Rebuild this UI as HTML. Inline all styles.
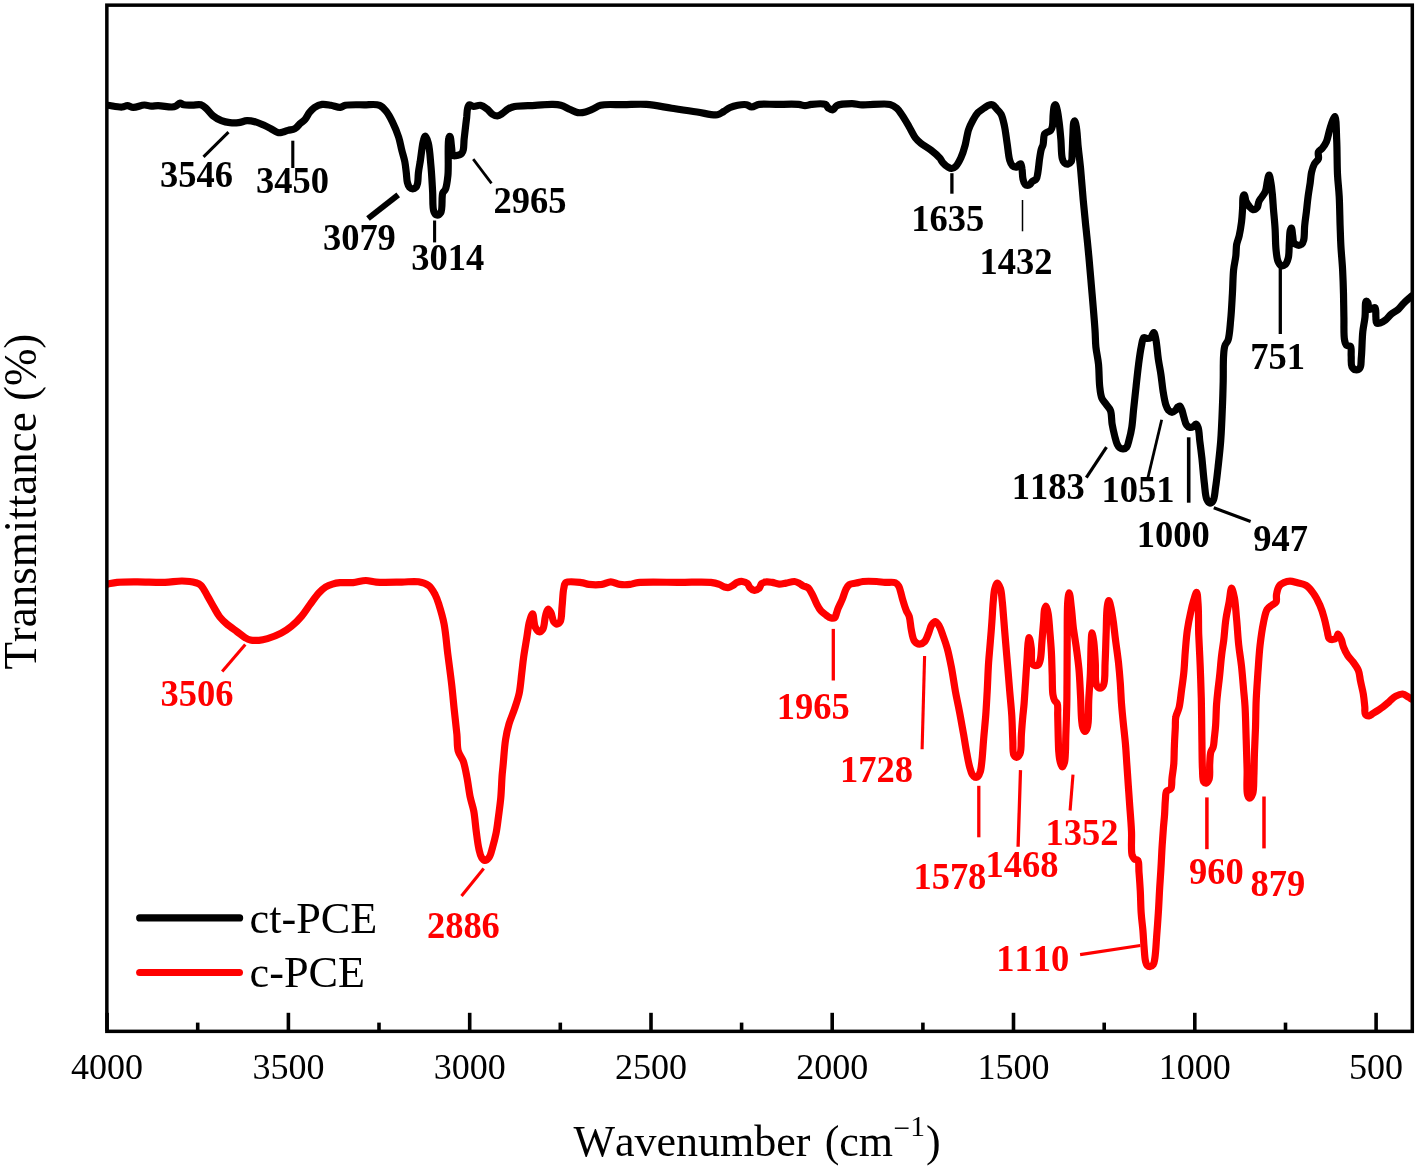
<!DOCTYPE html>
<html><head><meta charset="utf-8"><title>FTIR spectra</title>
<style>
html,body{margin:0;padding:0;background:#fff}
svg{display:block}
.r{font-family:"Liberation Serif","Times New Roman",serif;font-kerning:none}
</style></head><body>
<svg width="1418" height="1170" viewBox="0 0 1418 1170">
<rect width="1418" height="1170" fill="#fff"/>
<defs><clipPath id="cp"><rect x="106.85" y="5.15" width="1305.45" height="1026.2"/></clipPath></defs>
<g clip-path="url(#cp)">
<path d="M107.7,105.3 C112.5,105.9 118.6,107.3 122.2,107.0 C124.4,106.8 125.6,105.6 127.4,105.6 C129.3,105.6 131.0,107.3 133.3,107.4 C136.4,107.5 141.1,105.1 144.4,105.0 C147.0,104.9 149.0,106.1 151.3,106.2 C153.6,106.3 155.4,105.6 158.1,105.6 C161.9,105.6 168.6,107.2 171.8,107.0 C173.6,106.9 174.7,106.6 176.0,106.0 C177.4,105.4 178.6,103.3 180.0,103.2 C181.2,103.1 182.2,104.5 183.8,104.8 C186.0,105.3 189.5,105.1 192.3,105.1 C195.2,105.1 198.5,104.1 200.9,104.8 C202.9,105.4 204.3,106.7 206.0,108.2 C208.2,110.1 210.2,113.5 212.8,115.6 C215.4,117.7 218.4,119.5 221.4,120.7 C224.2,121.8 227.0,122.4 229.9,122.7 C232.7,123.0 235.7,123.0 238.5,122.7 C241.4,122.4 244.1,120.8 247.0,120.7 C249.8,120.6 252.8,121.2 255.6,121.9 C258.5,122.7 261.4,124.1 264.1,125.3 C266.5,126.4 268.6,127.5 270.9,128.7 C273.2,129.9 275.6,132.1 277.8,132.6 C279.6,133.0 281.2,132.5 282.9,132.1 C284.6,131.7 286.2,130.9 288.0,130.4 C290.1,129.8 292.9,129.8 294.9,128.7 C296.9,127.6 298.3,125.2 300.0,123.6 C301.7,122.1 303.6,121.0 305.1,119.3 C306.8,117.4 307.8,114.5 309.4,112.5 C310.9,110.6 312.5,108.7 314.5,107.4 C316.7,106.0 319.5,104.8 322.2,104.4 C324.9,104.0 327.9,104.8 330.8,105.3 C333.9,105.8 337.7,107.6 340.3,107.4 C342.3,107.2 343.1,105.8 345.4,105.3 C349.6,104.4 358.2,104.8 364.2,104.8 C369.6,104.8 375.7,103.7 379.6,105.3 C382.6,106.5 384.4,109.1 386.4,111.6 C388.7,114.5 390.5,118.1 392.4,121.9 C394.6,126.4 397.0,132.0 398.6,137.0 C400.1,141.6 400.8,146.3 401.9,150.6 C402.9,154.5 404.1,158.0 404.8,161.7 C405.5,165.4 405.9,169.2 406.3,172.8 C406.7,176.1 406.7,179.9 407.4,182.5 C407.9,184.4 408.4,186.1 409.4,187.2 C410.3,188.1 411.7,188.8 412.8,188.8 C413.9,188.8 415.2,188.1 416.0,187.3 C416.9,186.4 417.2,184.9 417.6,183.2 C418.2,180.6 418.0,176.3 418.4,172.8 C418.8,169.2 419.6,165.4 420.2,161.7 C420.7,158.0 421.2,154.2 421.7,150.6 C422.2,147.1 422.6,143.1 423.4,140.5 C423.9,138.7 424.5,136.2 425.2,136.2 C426.1,136.2 427.5,140.1 428.3,143.2 C429.7,148.5 430.2,157.8 430.9,165.5 C431.7,173.7 432.1,183.0 432.6,191.1 C433.1,198.3 432.3,207.8 433.9,211.6 C434.6,213.4 435.7,214.8 436.8,215.0 C438.0,215.2 439.8,214.1 440.8,212.5 C442.9,209.2 441.3,196.5 442.8,192.8 C443.5,191.1 444.7,191.0 445.4,189.4 C446.7,186.5 447.3,181.4 447.9,175.7 C448.9,166.3 447.4,142.4 448.8,138.1 C449.1,137.1 449.6,136.3 450.0,136.4 C450.8,136.6 451.2,144.9 451.7,148.4 C452.1,151.0 451.6,154.4 452.7,155.4 C453.4,156.1 454.9,155.8 456.0,155.7 C457.2,155.6 458.5,155.3 459.5,154.8 C460.5,154.4 461.4,153.8 462.0,153.0 C462.7,152.2 463.0,151.2 463.3,149.8 C463.9,147.4 463.8,142.9 464.1,139.4 C464.5,135.7 465.0,131.7 465.4,128.0 C465.8,124.4 466.3,120.6 466.7,117.2 C467.0,114.1 467.0,110.6 467.6,108.4 C468.0,106.9 468.4,105.2 469.3,104.8 C470.3,104.4 472.0,106.3 473.6,106.5 C475.6,106.7 478.2,104.9 480.4,105.3 C482.8,105.7 485.3,107.6 487.3,109.1 C489.2,110.6 490.6,113.1 492.4,114.2 C494.0,115.2 495.8,116.0 497.5,115.9 C499.2,115.8 500.9,114.4 502.6,113.3 C504.4,112.1 505.9,110.2 507.8,109.1 C509.8,107.9 511.7,107.1 514.6,106.5 C519.5,105.4 528.6,105.7 535.1,105.3 C541.1,105.0 547.5,104.3 552.2,104.4 C555.6,104.5 557.9,104.5 560.8,105.3 C563.9,106.1 567.2,108.2 570.2,109.5 C572.9,110.6 575.2,112.2 577.8,112.6 C580.3,113.0 582.9,112.6 585.4,112.0 C588.0,111.4 590.5,110.1 593.0,109.0 C595.6,107.9 597.3,106.0 600.6,105.2 C606.1,103.8 615.9,104.8 623.5,104.7 C631.1,104.6 638.5,103.9 646.3,104.4 C654.6,105.0 663.2,106.9 671.7,108.2 C680.2,109.5 689.1,110.9 697.1,112.0 C704.2,113.0 712.6,115.6 717.4,114.8 C720.2,114.3 721.6,112.7 723.7,111.5 C725.8,110.3 727.8,108.5 730.1,107.5 C732.5,106.4 735.0,105.7 737.7,105.2 C740.5,104.7 744.1,104.2 746.6,104.7 C748.6,105.1 749.8,106.9 751.7,107.0 C754.0,107.1 756.2,104.9 759.3,104.4 C763.7,103.7 769.9,104.4 775.8,104.4 C782.8,104.4 793.4,103.9 798.6,104.4 C801.4,104.7 802.9,105.7 805.0,105.7 C807.1,105.7 808.8,104.7 811.3,104.4 C815.0,104.0 822.4,103.1 825.3,104.4 C827.0,105.2 827.3,107.3 828.6,108.2 C829.8,109.1 831.6,110.1 832.9,109.8 C834.3,109.5 834.8,106.7 836.7,105.7 C839.9,104.0 847.4,103.7 852.0,103.7 C855.7,103.7 857.9,104.7 862.1,104.9 C869.1,105.3 884.0,102.9 890.0,104.4 C893.2,105.2 894.8,106.5 896.8,108.2 C898.9,110.0 900.2,112.4 902.0,115.0 C904.2,118.2 906.6,122.4 908.8,126.2 C911.1,130.1 913.3,135.1 915.6,138.1 C917.3,140.3 918.7,141.5 920.8,143.2 C923.6,145.4 927.8,147.6 931.0,150.1 C934.1,152.5 937.5,155.4 939.6,157.8 C941.1,159.6 941.6,161.4 943.0,162.9 C944.4,164.5 946.5,166.3 948.1,167.2 C949.3,167.9 950.3,168.6 951.5,168.5 C952.9,168.4 954.5,167.5 955.8,166.3 C957.7,164.5 959.4,161.0 960.9,157.8 C962.6,154.1 964.0,149.5 965.2,145.0 C966.5,140.1 967.1,134.0 968.6,129.6 C969.8,126.0 971.3,123.1 972.9,120.2 C974.4,117.4 976.0,114.6 978.0,112.5 C979.8,110.7 982.2,109.5 984.0,108.2 C985.5,107.1 986.8,105.9 988.3,105.3 C989.7,104.8 991.3,104.3 992.6,104.8 C994.2,105.4 995.4,107.6 996.8,109.1 C998.3,110.7 999.9,112.0 1001.1,114.2 C1002.7,117.2 1003.5,121.8 1004.5,126.2 C1005.6,131.3 1006.2,137.5 1007.1,143.2 C1008.0,148.9 1008.5,156.3 1009.7,160.3 C1010.4,162.6 1011.0,164.3 1012.2,165.5 C1013.3,166.5 1015.3,167.4 1016.5,167.2 C1017.6,167.0 1018.3,165.2 1019.1,164.6 C1019.7,164.2 1020.4,163.6 1020.8,163.8 C1021.5,164.2 1021.7,166.9 1022.0,168.9 C1022.5,171.7 1022.3,176.3 1023.0,179.1 C1023.5,181.2 1024.0,183.3 1025.0,184.3 C1025.7,185.1 1026.7,185.5 1027.6,185.5 C1028.5,185.5 1029.5,184.9 1030.2,184.3 C1030.9,183.7 1031.1,182.5 1031.9,181.7 C1032.9,180.7 1035.2,180.4 1036.2,179.1 C1037.4,177.5 1037.4,175.0 1037.9,172.3 C1038.6,168.5 1039.0,162.7 1039.6,158.6 C1040.1,155.2 1040.6,151.7 1041.3,149.2 C1041.8,147.5 1042.5,146.8 1043.0,145.0 C1043.8,142.2 1043.4,135.8 1044.7,133.8 C1045.4,132.8 1046.4,132.6 1047.3,132.1 C1048.3,131.5 1049.9,131.3 1050.7,130.4 C1051.6,129.4 1052.0,128.0 1052.4,126.2 C1053.1,123.3 1052.8,117.9 1053.2,114.2 C1053.5,111.1 1053.6,106.9 1054.4,105.6 C1054.7,105.1 1055.2,104.7 1055.5,104.8 C1056.2,105.0 1056.7,107.8 1057.2,109.9 C1058.0,113.2 1058.6,118.1 1059.2,122.7 C1059.9,128.0 1060.4,134.0 1060.9,139.8 C1061.4,145.9 1061.2,154.6 1062.3,158.6 C1062.8,160.6 1063.4,162.0 1064.4,162.9 C1065.3,163.7 1066.7,164.3 1067.8,164.1 C1069.0,163.9 1070.4,163.0 1071.2,161.7 C1072.4,159.7 1071.9,155.6 1072.2,151.8 C1072.5,146.9 1072.6,140.0 1072.9,134.7 C1073.2,130.1 1073.0,123.6 1073.9,121.9 C1074.2,121.3 1074.7,120.9 1075.0,121.0 C1075.8,121.3 1076.2,126.3 1076.7,129.6 C1077.3,134.0 1077.5,139.3 1078.0,145.0 C1078.7,152.1 1079.8,160.4 1080.6,168.9 C1081.5,178.5 1082.3,189.9 1083.2,199.7 C1084.0,208.6 1084.9,216.8 1085.7,225.3 C1086.6,233.8 1087.5,242.1 1088.3,250.9 C1089.2,260.3 1090.0,269.0 1090.9,280.0 C1092.1,294.4 1094.2,317.7 1095.0,330.0 C1095.5,337.2 1095.3,341.4 1095.9,347.1 C1096.5,352.8 1097.9,358.1 1098.5,364.2 C1099.2,371.1 1099.0,380.1 1099.7,386.4 C1100.2,391.0 1100.5,395.2 1101.9,398.4 C1103.0,400.9 1104.8,402.4 1106.2,404.4 C1107.6,406.4 1109.4,407.8 1110.4,410.3 C1111.8,413.8 1111.4,419.6 1112.1,424.0 C1112.8,428.1 1113.8,432.4 1114.7,436.0 C1115.5,439.1 1116.2,442.4 1117.3,444.5 C1118.0,446.0 1118.8,447.2 1119.8,447.9 C1120.8,448.6 1122.1,448.9 1123.2,448.8 C1124.4,448.7 1125.8,448.2 1126.7,447.1 C1128.0,445.6 1128.4,442.3 1129.2,439.4 C1130.2,435.9 1131.1,431.8 1131.8,427.4 C1132.6,422.2 1132.9,416.5 1133.5,410.3 C1134.3,403.0 1135.2,394.2 1136.1,386.4 C1136.9,378.9 1137.7,371.1 1138.6,364.2 C1139.4,358.1 1140.2,351.9 1141.2,347.1 C1142.0,343.5 1142.3,338.6 1143.8,337.7 C1144.7,337.2 1146.1,338.5 1147.2,338.5 C1148.3,338.5 1149.6,338.4 1150.6,337.7 C1151.9,336.8 1152.9,332.5 1153.7,332.6 C1154.6,332.7 1155.1,335.9 1155.7,338.5 C1156.8,343.2 1157.4,352.8 1158.3,359.1 C1159.1,364.6 1160.1,369.0 1160.9,374.4 C1161.8,380.3 1162.4,387.7 1163.4,393.2 C1164.2,397.7 1164.9,402.1 1166.0,405.2 C1166.7,407.3 1167.4,409.1 1168.5,410.3 C1169.5,411.3 1170.8,412.4 1172.0,412.4 C1173.1,412.4 1174.4,411.2 1175.4,410.3 C1176.4,409.4 1177.0,407.6 1177.9,406.9 C1178.5,406.4 1179.2,405.9 1179.7,406.1 C1180.5,406.3 1181.1,408.1 1181.7,409.5 C1182.6,411.5 1183.1,414.6 1183.9,417.2 C1184.7,419.8 1185.2,423.2 1186.5,424.9 C1187.4,426.2 1188.7,427.2 1189.9,427.4 C1191.0,427.6 1192.3,427.2 1193.3,426.6 C1194.3,426.0 1195.1,423.9 1195.9,424.0 C1196.7,424.1 1197.5,425.8 1198.1,427.4 C1199.2,430.4 1199.2,436.3 1199.8,441.1 C1200.5,446.5 1201.2,451.9 1201.9,458.2 C1202.7,465.9 1203.5,476.4 1204.4,483.8 C1205.1,489.6 1205.3,495.9 1206.7,499.2 C1207.5,501.0 1208.5,502.8 1209.6,503.0 C1210.6,503.2 1212.1,502.2 1213.0,500.9 C1214.7,498.5 1214.8,492.3 1215.6,487.3 C1216.6,481.2 1217.3,474.0 1218.1,466.8 C1219.0,458.7 1220.0,450.3 1220.7,441.1 C1221.5,430.5 1222.0,417.5 1222.4,406.9 C1222.8,397.8 1223.0,389.8 1223.2,381.3 C1223.4,372.7 1223.1,362.2 1223.6,355.6 C1223.9,351.4 1224.0,348.2 1225.0,345.4 C1225.7,343.2 1227.3,342.5 1228.1,340.0 C1229.6,335.5 1230.0,326.7 1230.7,319.5 C1231.5,311.4 1231.9,302.2 1232.4,293.8 C1232.9,285.7 1232.9,276.7 1233.6,269.9 C1234.1,264.7 1235.3,260.6 1235.8,256.2 C1236.3,252.1 1236.0,247.9 1236.7,244.3 C1237.3,241.2 1238.5,238.9 1239.2,235.7 C1240.1,231.7 1240.9,226.7 1241.5,222.1 C1242.1,217.6 1242.3,212.8 1242.6,208.4 C1242.9,204.3 1242.4,198.4 1243.2,196.4 C1243.5,195.6 1244.0,194.9 1244.4,195.0 C1245.1,195.2 1245.2,199.5 1246.1,201.5 C1246.9,203.4 1248.3,205.3 1249.5,206.7 C1250.6,207.9 1251.6,209.5 1252.9,209.7 C1254.2,209.9 1256.2,208.7 1257.2,207.5 C1258.3,206.1 1258.0,203.4 1258.9,201.5 C1259.7,199.7 1261.2,198.1 1262.3,196.4 C1263.4,194.7 1264.6,193.4 1265.4,191.3 C1266.5,188.5 1266.7,184.0 1267.4,181.0 C1267.9,178.7 1268.5,175.0 1269.1,175.0 C1269.7,175.0 1270.4,179.9 1270.9,182.7 C1271.5,185.9 1271.8,189.2 1272.2,193.0 C1272.7,197.6 1273.0,202.9 1273.4,208.4 C1273.9,214.7 1274.7,222.1 1275.1,228.9 C1275.5,235.7 1275.4,243.5 1276.0,249.4 C1276.5,253.9 1276.8,258.5 1278.0,261.4 C1278.8,263.3 1279.8,265.2 1281.1,265.6 C1282.3,266.0 1284.3,265.4 1285.4,264.4 C1286.8,263.2 1287.6,260.6 1288.3,257.9 C1289.3,253.9 1289.0,247.4 1289.3,242.6 C1289.6,238.4 1289.6,233.1 1290.2,230.6 C1290.5,229.4 1291.1,228.0 1291.4,228.0 C1292.0,228.1 1292.3,233.2 1292.7,235.7 C1293.1,238.1 1292.9,241.0 1293.9,242.6 C1294.7,243.9 1296.1,244.8 1297.4,245.1 C1298.7,245.4 1300.6,245.1 1301.6,244.3 C1302.7,243.5 1303.2,241.9 1303.7,240.0 C1304.6,236.7 1304.2,230.3 1304.7,225.5 C1305.1,220.9 1305.8,216.5 1306.4,211.8 C1307.0,206.8 1307.4,201.4 1308.1,196.4 C1308.7,191.7 1309.6,186.9 1310.2,182.7 C1310.7,179.1 1310.8,175.7 1311.5,172.5 C1312.2,169.5 1313.1,166.3 1314.4,163.9 C1315.5,161.9 1317.7,160.8 1318.4,158.8 C1319.1,156.8 1317.6,153.8 1318.4,152.0 C1319.1,150.5 1320.9,149.9 1322.1,148.5 C1323.6,146.7 1325.2,144.4 1326.4,141.7 C1327.8,138.5 1328.4,133.9 1329.5,130.3 C1330.5,127.0 1331.4,123.5 1332.5,121.0 C1333.3,119.2 1334.3,116.4 1334.9,116.5 C1336.3,116.8 1336.3,131.4 1336.7,140.0 C1337.2,150.3 1337.0,164.0 1337.5,174.2 C1337.9,182.4 1338.8,188.5 1339.2,196.4 C1339.7,205.4 1339.8,216.6 1340.1,225.5 C1340.4,232.9 1340.5,238.9 1340.9,246.0 C1341.3,253.7 1342.2,261.9 1342.6,269.9 C1343.0,277.9 1343.3,285.9 1343.5,293.8 C1343.7,301.6 1343.7,309.4 1343.9,317.2 C1344.1,325.0 1343.5,335.5 1344.6,340.4 C1345.1,342.8 1345.7,344.6 1346.8,345.5 C1347.7,346.2 1349.6,345.3 1350.4,346.2 C1351.8,347.7 1350.9,353.0 1351.2,356.4 C1351.4,359.8 1350.8,364.3 1351.9,366.6 C1352.7,368.2 1354.2,369.6 1355.5,369.8 C1356.8,370.0 1358.9,369.3 1359.9,368.0 C1361.4,366.1 1360.9,362.1 1361.3,357.9 C1362.0,351.2 1362.0,339.1 1362.8,331.7 C1363.4,326.1 1364.5,322.2 1365.0,317.2 C1365.6,312.0 1364.9,301.7 1366.1,301.2 C1366.6,301.0 1367.4,301.9 1367.9,302.7 C1368.7,304.0 1368.0,308.5 1369.0,309.2 C1369.7,309.7 1371.2,308.8 1372.2,308.5 C1373.2,308.3 1374.4,307.2 1375.1,307.7 C1376.3,308.5 1375.6,314.4 1375.9,317.2 C1376.1,319.4 1375.6,322.1 1376.6,323.0 C1377.4,323.7 1378.9,323.3 1380.2,323.0 C1381.8,322.6 1383.6,321.4 1385.3,320.1 C1387.3,318.6 1389.0,316.1 1391.1,314.3 C1393.3,312.4 1396.2,311.1 1398.4,309.2 C1400.6,307.3 1402.1,304.8 1404.2,302.7 C1406.4,300.4 1409.1,298.3 1411.5,296.1" fill="none" stroke="#000" stroke-width="7.2" stroke-linejoin="round" stroke-linecap="round"/>
<path d="M107.7,584.1 C110.8,583.5 113.3,582.8 117.1,582.4 C122.6,581.8 130.3,581.9 137.6,581.9 C146.1,581.9 156.9,582.7 165.0,582.4 C171.4,582.2 176.7,580.9 182.1,581.0 C186.9,581.1 192.3,581.7 195.7,582.7 C197.9,583.4 199.3,583.8 200.9,585.3 C203.4,587.6 205.5,592.6 207.7,596.4 C210.0,600.3 212.4,604.8 214.5,608.4 C216.3,611.5 217.7,614.3 219.7,616.9 C221.7,619.4 223.9,621.5 226.5,623.8 C229.5,626.4 233.5,629.1 236.8,631.5 C239.8,633.7 242.7,636.3 245.3,637.8 C247.1,638.9 248.4,639.6 250.4,640.0 C252.9,640.6 256.2,640.5 259.0,640.3 C261.9,640.1 264.4,639.5 267.5,638.6 C271.6,637.4 277.1,635.4 281.2,633.2 C285.0,631.2 288.2,629.0 291.5,626.3 C295.1,623.4 298.6,619.8 301.7,616.1 C304.9,612.4 307.4,608.0 310.3,604.1 C313.1,600.3 316.0,596.0 318.8,593.0 C321.1,590.6 323.2,588.5 325.6,587.0 C327.8,585.6 330.1,584.8 332.5,584.1 C334.9,583.4 337.1,583.0 340.0,582.7 C343.7,582.3 348.8,583.0 353.1,582.6 C357.4,582.2 361.9,580.5 365.9,580.5 C369.5,580.5 372.0,581.8 376.2,582.1 C382.8,582.6 394.2,582.2 401.8,582.1 C408.0,582.0 413.7,581.0 418.5,581.8 C422.4,582.5 425.9,583.5 428.7,585.6 C431.5,587.7 433.4,591.4 435.1,594.6 C436.8,597.8 437.7,600.9 439.0,604.9 C440.7,610.3 442.7,616.9 444.1,624.1 C445.8,633.1 446.6,644.6 447.9,654.9 C449.2,665.1 450.7,675.8 451.8,685.6 C452.8,694.5 453.5,703.0 454.4,711.3 C455.2,719.2 456.2,727.3 456.9,734.4 C457.5,740.4 456.9,746.2 458.2,751.0 C459.3,755.0 461.9,757.4 463.3,761.3 C464.9,765.9 465.8,771.5 466.9,777.1 C468.2,783.5 469.0,791.5 470.3,797.6 C471.4,802.7 472.8,806.2 473.8,811.3 C474.9,817.4 475.4,825.3 476.3,831.8 C477.1,837.8 477.8,844.2 478.9,848.9 C479.7,852.3 480.2,855.4 481.5,857.4 C482.4,858.9 483.7,860.4 484.9,860.5 C486.2,860.6 487.9,859.0 489.1,857.4 C490.8,855.1 491.5,850.9 492.6,847.2 C493.8,843.0 495.0,838.3 496.0,833.5 C497.1,828.1 497.7,822.2 498.5,816.4 C499.3,810.3 500.2,804.0 500.8,797.6 C501.4,790.9 501.6,783.0 502.0,777.1 C502.3,772.6 502.7,769.8 503.1,765.1 C503.8,758.2 504.4,746.9 505.6,739.5 C506.5,733.7 507.5,729.2 509.0,724.1 C510.5,718.9 512.9,713.9 514.6,708.7 C516.3,703.6 518.0,698.9 519.2,693.3 C520.5,687.0 521.0,679.1 521.8,672.8 C522.5,667.3 522.8,662.9 523.6,657.4 C524.5,651.0 525.9,643.2 526.9,636.9 C527.8,631.4 528.3,625.7 529.5,621.5 C530.4,618.4 531.7,613.7 532.6,613.8 C533.7,613.9 533.7,623.5 535.1,626.7 C536.1,628.9 537.6,631.6 539.0,631.8 C540.2,632.0 541.8,630.7 542.8,629.2 C544.5,626.7 544.4,620.0 545.4,616.4 C546.2,613.6 546.8,609.4 547.9,609.2 C548.8,609.0 550.1,611.1 551.0,612.6 C552.2,614.8 552.3,619.5 553.6,621.5 C554.5,622.8 555.8,624.1 556.9,624.1 C558.0,624.1 559.4,623.0 560.3,621.5 C561.9,618.7 561.5,611.5 562.1,606.2 C562.7,600.4 562.8,592.5 563.8,588.2 C564.4,585.8 564.2,583.7 565.9,582.6 C568.6,580.8 577.1,582.1 581.3,582.6 C584.3,582.9 586.1,584.1 589.0,584.4 C592.7,584.8 597.9,584.9 601.8,584.4 C605.1,583.9 607.8,581.8 610.8,581.8 C613.8,581.8 616.6,584.0 619.7,584.4 C623.0,584.9 626.8,584.8 630.0,584.4 C632.8,584.1 634.1,583.0 637.7,582.6 C646.1,581.6 667.0,582.4 680.0,582.4 C691.1,582.4 703.8,581.6 710.8,582.4 C714.5,582.8 716.9,583.5 719.3,584.4 C721.3,585.1 722.7,586.5 724.4,587.0 C725.9,587.4 727.3,587.8 728.7,587.5 C730.2,587.2 731.6,586.1 733.0,585.3 C734.5,584.4 735.7,583.0 737.3,582.4 C738.9,581.8 740.7,581.3 742.4,581.5 C744.1,581.7 746.2,582.5 747.5,583.6 C748.7,584.7 748.9,586.8 750.1,587.9 C751.2,589.0 752.9,590.3 754.4,590.4 C755.9,590.5 757.8,589.5 759.0,588.4 C760.3,587.3 760.4,584.7 761.7,583.6 C762.9,582.6 764.6,582.1 766.3,581.9 C768.1,581.6 770.3,582.1 772.3,582.4 C774.5,582.8 776.8,584.0 779.1,584.1 C781.4,584.2 783.6,583.5 786.0,583.1 C788.7,582.7 792.0,581.3 794.5,581.5 C796.5,581.7 798.2,582.8 799.7,583.6 C801.0,584.3 801.8,585.1 803.1,585.8 C804.6,586.6 806.7,586.7 808.2,587.9 C810.0,589.4 811.1,592.2 812.5,594.7 C814.0,597.5 815.3,601.3 816.8,604.1 C818.1,606.6 819.3,609.0 821.0,610.9 C822.5,612.6 824.5,614.0 826.2,615.2 C827.6,616.2 828.9,617.4 830.4,617.8 C831.8,618.2 833.7,618.5 834.7,617.8 C835.7,617.1 835.9,615.0 836.4,613.5 C837.0,611.9 837.3,610.3 838.1,608.4 C839.2,605.7 841.1,602.2 842.4,599.0 C843.7,595.9 844.5,592.1 845.8,589.6 C846.8,587.7 847.6,585.9 849.2,584.8 C850.9,583.6 853.8,583.7 856.1,583.1 C858.4,582.6 860.2,581.8 862.9,581.5 C866.7,581.1 872.6,581.3 876.6,581.5 C879.8,581.7 882.1,582.2 885.1,582.4 C888.4,582.6 893.0,581.7 895.4,582.7 C897.0,583.4 897.9,584.6 898.8,586.2 C900.0,588.3 900.6,592.1 901.4,594.7 C902.0,597.0 902.4,598.7 903.1,601.0 C903.9,603.8 905.1,607.6 906.2,610.3 C907.1,612.6 908.4,613.9 909.2,616.4 C910.3,619.9 910.4,625.5 911.3,629.7 C912.1,633.6 912.6,638.6 914.4,641.0 C915.7,642.7 917.8,644.0 919.5,644.1 C921.2,644.2 923.2,643.0 924.6,641.6 C926.5,639.7 927.5,635.7 928.7,632.8 C929.9,630.0 930.4,626.6 931.8,624.6 C932.8,623.2 934.1,621.4 935.3,621.5 C936.6,621.6 937.9,623.8 939.0,625.6 C940.6,628.2 941.8,632.3 943.1,635.9 C944.5,639.8 945.9,643.6 947.2,648.2 C948.7,653.7 950.0,660.1 951.3,666.7 C952.8,674.3 954.0,683.5 955.4,691.3 C956.7,698.5 958.2,704.8 959.5,711.8 C960.9,719.1 962.3,727.2 963.6,734.4 C964.7,740.8 965.6,747.1 966.7,752.8 C967.7,757.9 968.6,763.3 969.7,767.2 C970.5,770.0 971.1,772.6 972.2,774.4 C973.0,775.7 973.9,776.9 974.9,777.2 C975.8,777.5 977.1,777.3 977.9,776.6 C979.1,775.7 979.7,773.5 980.4,771.3 C981.3,768.1 981.6,763.6 982.1,759.0 C982.7,753.0 983.1,745.5 983.7,738.5 C984.3,731.1 985.1,723.6 985.7,715.9 C986.3,707.9 986.7,699.8 987.2,691.3 C987.7,682.1 988.0,671.4 988.6,662.6 C989.1,655.2 989.8,648.9 990.3,642.1 C990.9,635.2 991.4,628.4 991.9,621.5 C992.4,614.7 992.7,607.0 993.3,601.0 C993.7,596.4 993.9,592.0 994.8,588.7 C995.5,586.4 996.5,583.0 997.4,583.0 C998.4,583.0 999.7,586.4 1000.5,588.7 C1001.6,591.9 1001.7,596.6 1002.2,601.0 C1002.8,606.1 1003.1,611.4 1003.6,617.4 C1004.2,624.8 1004.9,633.9 1005.6,642.1 C1006.3,650.3 1007.0,658.5 1007.7,666.7 C1008.4,674.9 1009.0,683.1 1009.7,691.3 C1010.4,699.5 1011.3,707.7 1011.8,715.9 C1012.3,724.1 1012.4,733.4 1012.8,740.5 C1013.1,745.9 1012.5,752.2 1013.8,754.9 C1014.5,756.2 1015.6,757.3 1016.5,757.3 C1017.6,757.3 1019.1,755.7 1020.0,753.8 C1021.7,750.1 1020.9,740.6 1021.4,734.4 C1021.8,728.7 1022.2,723.2 1022.7,717.9 C1023.1,713.0 1023.7,708.8 1024.1,703.6 C1024.6,697.4 1025.0,689.9 1025.5,683.1 C1025.9,676.3 1026.4,669.4 1026.8,662.6 C1027.3,655.8 1027.6,646.5 1028.2,642.1 C1028.5,640.0 1028.8,637.5 1029.2,637.5 C1029.8,637.5 1030.8,644.3 1031.3,648.2 C1031.9,652.8 1030.8,661.0 1032.3,663.6 C1033.0,664.9 1034.3,665.5 1035.4,665.6 C1036.4,665.7 1037.7,665.4 1038.5,664.6 C1039.6,663.5 1040.0,661.1 1040.5,658.5 C1041.3,654.4 1041.4,647.9 1041.9,642.1 C1042.4,635.6 1043.1,627.5 1043.6,621.5 C1044.0,616.9 1043.9,611.9 1044.6,609.2 C1045.0,607.8 1045.6,606.2 1046.1,606.2 C1046.8,606.3 1047.6,610.4 1048.1,613.3 C1048.9,617.6 1049.2,623.8 1049.7,629.7 C1050.3,636.6 1051.0,644.8 1051.4,652.3 C1051.8,659.8 1051.9,667.6 1052.2,674.9 C1052.4,681.7 1052.2,689.9 1052.9,694.5 C1053.3,697.1 1053.8,698.8 1054.6,700.4 C1055.3,701.7 1056.6,702.1 1057.2,703.6 C1058.2,706.1 1057.6,710.6 1057.7,715.0 C1057.9,721.1 1058.0,730.1 1058.2,736.7 C1058.4,742.2 1058.4,747.4 1058.8,752.0 C1059.1,755.8 1059.5,759.6 1060.3,762.3 C1060.8,764.2 1061.6,766.9 1062.3,766.9 C1063.0,766.9 1064.0,764.2 1064.5,762.3 C1065.2,759.6 1065.2,755.8 1065.4,752.0 C1065.7,747.4 1065.6,742.8 1065.8,736.7 C1066.1,727.8 1066.6,713.7 1066.8,704.0 C1067.0,696.3 1066.9,691.2 1067.0,683.1 C1067.1,671.7 1067.1,655.8 1067.2,642.1 C1067.3,628.4 1067.0,609.4 1067.8,601.0 C1068.1,597.2 1068.7,592.8 1069.2,592.8 C1069.9,592.8 1070.7,602.0 1071.3,607.2 C1072.1,613.4 1072.5,620.9 1073.3,627.7 C1074.2,634.5 1075.5,641.4 1076.4,648.2 C1077.3,655.0 1078.2,661.3 1078.9,668.7 C1079.7,677.4 1080.1,688.0 1080.6,697.0 C1081.0,705.2 1081.1,714.9 1081.7,720.5 C1082.0,723.6 1082.1,725.8 1082.8,727.8 C1083.3,729.3 1084.2,731.4 1084.9,731.4 C1085.6,731.4 1086.6,729.7 1087.1,728.4 C1087.8,726.7 1087.9,724.8 1088.2,722.0 C1088.7,717.0 1088.4,708.5 1088.7,701.0 C1089.1,692.3 1090.0,682.4 1090.4,672.8 C1090.8,662.8 1090.8,649.4 1091.2,642.1 C1091.4,638.1 1091.6,632.8 1092.0,632.8 C1092.4,632.8 1093.3,638.4 1093.8,642.1 C1094.5,647.6 1094.9,655.6 1095.3,662.6 C1095.8,669.9 1094.6,681.2 1096.5,685.1 C1097.4,686.9 1098.8,688.2 1100.0,688.2 C1101.2,688.2 1102.6,686.9 1103.5,685.1 C1105.4,681.2 1104.7,670.7 1105.1,662.6 C1105.6,653.1 1105.8,641.5 1106.2,631.8 C1106.5,623.1 1106.4,612.8 1107.2,607.2 C1107.6,604.3 1108.2,600.6 1108.8,600.6 C1109.5,600.6 1110.6,606.1 1111.3,609.2 C1112.1,612.9 1112.6,616.9 1113.3,621.5 C1114.1,627.5 1114.9,635.2 1115.8,642.1 C1116.7,648.9 1117.7,655.8 1118.5,662.6 C1119.2,669.4 1119.8,676.3 1120.3,683.1 C1120.8,689.9 1121.0,696.8 1121.5,703.6 C1122.0,710.4 1122.7,717.3 1123.4,724.1 C1124.1,730.9 1124.9,737.8 1125.5,744.6 C1126.1,751.4 1126.4,758.3 1126.9,765.1 C1127.4,771.9 1127.8,778.8 1128.3,785.6 C1128.8,792.3 1129.2,798.5 1129.7,805.6 C1130.3,813.6 1131.1,822.9 1131.5,831.3 C1131.9,839.4 1130.8,850.7 1132.1,855.2 C1132.7,857.1 1133.4,858.1 1134.4,859.0 C1135.3,859.8 1137.0,859.2 1137.8,860.3 C1139.3,862.2 1138.6,867.8 1139.0,872.3 C1139.5,877.9 1139.9,884.6 1140.3,891.1 C1140.7,898.2 1140.7,906.4 1141.2,913.3 C1141.6,919.4 1142.4,924.7 1142.9,930.4 C1143.4,936.1 1143.6,942.1 1144.1,947.5 C1144.5,952.3 1144.7,958.0 1145.5,961.2 C1146.0,963.1 1146.3,964.6 1147.2,965.5 C1147.9,966.2 1148.8,966.7 1149.7,966.7 C1150.8,966.6 1152.4,965.7 1153.2,964.6 C1154.3,963.1 1154.4,960.7 1154.9,957.8 C1155.7,952.8 1156.1,944.4 1156.6,937.3 C1157.2,929.6 1157.8,921.1 1158.3,913.3 C1158.8,905.8 1159.1,898.5 1159.5,891.1 C1159.9,883.7 1160.5,876.4 1160.9,868.9 C1161.4,861.1 1161.7,852.3 1162.2,845.0 C1162.6,838.8 1163.0,833.3 1163.4,827.9 C1163.8,823.1 1164.3,818.8 1164.6,814.2 C1164.9,809.4 1165.0,803.9 1165.4,799.7 C1165.7,796.5 1165.4,793.1 1166.6,791.3 C1167.5,789.9 1169.9,790.3 1170.8,788.9 C1172.2,786.7 1171.5,782.0 1172.0,778.1 C1172.5,773.7 1173.4,768.9 1173.8,763.8 C1174.2,758.2 1174.1,751.8 1174.4,745.8 C1174.6,739.8 1175.0,733.1 1175.3,727.9 C1175.5,723.8 1175.1,720.5 1175.8,717.1 C1176.4,713.8 1178.2,711.2 1179.1,707.5 C1180.3,702.5 1180.8,695.6 1181.6,689.7 C1182.4,683.9 1183.2,678.6 1183.8,672.6 C1184.5,665.9 1184.7,658.3 1185.3,651.2 C1185.9,644.1 1186.4,636.5 1187.4,629.8 C1188.3,623.8 1189.4,618.0 1190.6,612.7 C1191.6,608.1 1192.7,603.6 1193.8,599.9 C1194.7,597.0 1195.9,592.3 1196.6,592.4 C1197.5,592.5 1197.7,599.4 1198.1,604.2 C1198.7,611.9 1198.4,624.0 1198.7,634.1 C1199.1,644.6 1199.8,655.5 1200.2,666.2 C1200.6,676.9 1201.0,686.8 1201.3,698.2 C1201.6,711.2 1201.7,727.1 1201.9,739.8 C1202.1,750.6 1202.0,762.0 1202.5,769.7 C1202.8,774.6 1202.4,779.7 1203.7,781.7 C1204.3,782.6 1205.3,783.2 1206.1,783.1 C1207.1,782.9 1208.4,781.1 1209.1,779.3 C1210.3,776.0 1209.4,768.6 1209.7,763.8 C1210.0,759.5 1210.0,754.8 1210.9,751.8 C1211.5,749.8 1212.6,748.9 1213.2,747.0 C1214.0,744.4 1214.0,740.8 1214.4,737.4 C1214.8,733.6 1215.3,730.1 1215.6,725.5 C1216.1,719.4 1216.1,710.4 1216.6,703.9 C1217.0,698.6 1217.5,694.2 1218.0,689.6 C1218.5,685.2 1219.0,681.7 1219.5,676.9 C1220.2,670.7 1220.8,662.0 1221.6,655.5 C1222.2,650.0 1223.0,645.9 1223.7,640.5 C1224.5,634.0 1224.9,625.9 1225.9,619.2 C1226.8,613.2 1228.1,607.5 1229.1,602.1 C1230.0,597.2 1230.6,588.3 1231.6,588.2 C1232.4,588.2 1233.6,593.9 1234.4,597.8 C1235.5,603.5 1235.9,611.7 1236.6,619.2 C1237.4,627.3 1237.8,636.7 1238.7,644.8 C1239.5,652.3 1240.7,658.9 1241.5,666.2 C1242.3,673.8 1243.0,682.6 1243.6,689.7 C1244.1,695.6 1244.6,699.6 1245.0,706.0 C1245.6,715.2 1245.8,728.9 1246.2,739.8 C1246.5,750.1 1246.9,760.2 1247.1,769.7 C1247.3,778.5 1246.2,790.6 1247.6,794.9 C1248.1,796.6 1249.0,798.1 1249.8,798.1 C1250.7,798.1 1252.0,795.8 1252.7,793.7 C1254.0,789.8 1253.6,782.1 1253.9,775.7 C1254.2,768.3 1254.2,759.8 1254.5,751.8 C1254.8,743.8 1255.2,736.2 1255.5,727.9 C1255.8,719.0 1255.8,709.3 1256.2,700.0 C1256.6,690.8 1257.3,681.8 1257.9,672.6 C1258.6,663.4 1259.1,653.4 1260.1,644.8 C1261.0,637.2 1262.0,629.7 1263.3,623.4 C1264.4,618.2 1265.2,612.6 1267.1,609.5 C1268.4,607.4 1270.2,606.6 1271.8,605.3 C1273.2,604.1 1275.3,603.6 1276.1,602.1 C1277.1,600.3 1276.0,597.2 1276.5,594.6 C1277.0,591.8 1277.8,588.0 1279.3,586.0 C1280.4,584.4 1281.9,583.6 1283.6,582.8 C1285.4,581.9 1287.8,581.1 1290.0,581.1 C1292.4,581.1 1294.9,582.1 1297.5,582.8 C1300.3,583.5 1303.4,583.8 1306.0,585.4 C1308.8,587.2 1311.3,590.4 1313.5,593.5 C1316.0,596.9 1318.1,601.2 1319.9,605.3 C1321.7,609.4 1323.0,613.7 1324.2,618.1 C1325.5,622.6 1326.5,628.3 1327.4,632.0 C1328.0,634.5 1327.9,637.2 1329.1,638.4 C1330.0,639.3 1331.5,639.6 1332.7,639.5 C1333.9,639.4 1335.5,638.9 1336.4,638.0 C1337.3,637.1 1337.4,634.1 1338.1,634.1 C1339.0,634.0 1340.4,637.5 1341.3,639.5 C1342.3,641.7 1342.4,644.4 1343.4,646.9 C1344.5,649.7 1346.0,652.9 1347.7,655.5 C1349.3,657.9 1351.3,659.5 1353.0,661.9 C1354.9,664.5 1357.2,667.4 1358.4,670.5 C1359.7,673.7 1359.7,677.4 1360.5,681.1 C1361.3,685.2 1362.6,689.7 1363.3,694.0 C1364.0,698.3 1364.4,703.1 1364.8,706.8 C1365.1,709.6 1364.3,712.8 1365.4,714.3 C1366.2,715.4 1367.9,715.9 1369.1,715.8 C1370.5,715.7 1371.6,714.3 1373.3,713.2 C1375.9,711.6 1380.2,708.9 1383.0,706.8 C1385.4,705.0 1387.3,703.2 1389.4,701.4 C1391.5,699.6 1393.5,697.3 1395.8,696.1 C1397.9,695.0 1400.4,693.8 1402.6,694.0 C1404.7,694.2 1406.9,696.2 1408.6,697.2 C1409.9,697.9 1410.7,698.6 1411.8,699.3" fill="none" stroke="#ff0000" stroke-width="7.2" stroke-linejoin="round" stroke-linecap="round"/>
</g>
<rect x="106.85" y="5.15" width="1305.45" height="1026.2" fill="none" stroke="#000" stroke-width="3.5"/>
<line x1="107.1" y1="1031" x2="107.1" y2="1012.8" stroke="#000" stroke-width="3.6"/>
<line x1="197.7" y1="1031" x2="197.7" y2="1022.6" stroke="#000" stroke-width="3.6"/>
<line x1="288.4" y1="1031" x2="288.4" y2="1012.8" stroke="#000" stroke-width="3.6"/>
<line x1="379.0" y1="1031" x2="379.0" y2="1022.6" stroke="#000" stroke-width="3.6"/>
<line x1="469.7" y1="1031" x2="469.7" y2="1012.8" stroke="#000" stroke-width="3.6"/>
<line x1="560.3" y1="1031" x2="560.3" y2="1022.6" stroke="#000" stroke-width="3.6"/>
<line x1="651.0" y1="1031" x2="651.0" y2="1012.8" stroke="#000" stroke-width="3.6"/>
<line x1="741.6" y1="1031" x2="741.6" y2="1022.6" stroke="#000" stroke-width="3.6"/>
<line x1="832.2" y1="1031" x2="832.2" y2="1012.8" stroke="#000" stroke-width="3.6"/>
<line x1="922.9" y1="1031" x2="922.9" y2="1022.6" stroke="#000" stroke-width="3.6"/>
<line x1="1013.5" y1="1031" x2="1013.5" y2="1012.8" stroke="#000" stroke-width="3.6"/>
<line x1="1104.2" y1="1031" x2="1104.2" y2="1022.6" stroke="#000" stroke-width="3.6"/>
<line x1="1194.8" y1="1031" x2="1194.8" y2="1012.8" stroke="#000" stroke-width="3.6"/>
<line x1="1285.5" y1="1031" x2="1285.5" y2="1022.6" stroke="#000" stroke-width="3.6"/>
<line x1="1376.1" y1="1031" x2="1376.1" y2="1012.8" stroke="#000" stroke-width="3.6"/>
<text x="107.1" y="1078.9" font-size="36" text-anchor="middle" class="r">4000</text>
<text x="288.4" y="1078.9" font-size="36" text-anchor="middle" class="r">3500</text>
<text x="469.7" y="1078.9" font-size="36" text-anchor="middle" class="r">3000</text>
<text x="651.0" y="1078.9" font-size="36" text-anchor="middle" class="r">2500</text>
<text x="832.2" y="1078.9" font-size="36" text-anchor="middle" class="r">2000</text>
<text x="1013.5" y="1078.9" font-size="36" text-anchor="middle" class="r">1500</text>
<text x="1194.8" y="1078.9" font-size="36" text-anchor="middle" class="r">1000</text>
<text x="1376.1" y="1078.9" font-size="36" text-anchor="middle" class="r">500</text>
<line x1="228.5" y1="132.1" x2="203.5" y2="156.9" stroke="#000" stroke-width="3.0"/>
<line x1="292.8" y1="140.7" x2="292.8" y2="168" stroke="#000" stroke-width="3.1"/>
<line x1="398.2" y1="194.9" x2="368" y2="218.5" stroke="#000" stroke-width="5.9"/>
<line x1="434.6" y1="220.5" x2="434.6" y2="242.4" stroke="#000" stroke-width="3.1"/>
<line x1="473.2" y1="159.1" x2="491.5" y2="183.4" stroke="#000" stroke-width="2.7"/>
<line x1="951.9" y1="173.2" x2="951.9" y2="193.7" stroke="#000" stroke-width="3.3"/>
<line x1="1022.5" y1="200" x2="1022.5" y2="231.3" stroke="#000" stroke-width="1.5"/>
<line x1="1106.5" y1="447.1" x2="1086.3" y2="477.6" stroke="#000" stroke-width="3.2"/>
<line x1="1161.7" y1="419.7" x2="1148.0" y2="477.4" stroke="#000" stroke-width="2.8"/>
<line x1="1188.7" y1="437.3" x2="1188.7" y2="502.7" stroke="#000" stroke-width="3.6"/>
<line x1="1213.8" y1="507.8" x2="1250.6" y2="521.5" stroke="#000" stroke-width="3.2"/>
<line x1="1280.3" y1="268" x2="1280.3" y2="334" stroke="#000" stroke-width="3.3"/>
<line x1="245.3" y1="644.6" x2="222.2" y2="671.6" stroke="#ff0000" stroke-width="3.1"/>
<line x1="483.7" y1="868.5" x2="461.5" y2="895.9" stroke="#ff0000" stroke-width="3.1"/>
<line x1="833.3" y1="628.9" x2="833.3" y2="680.5" stroke="#ff0000" stroke-width="3.3"/>
<line x1="924.6" y1="656" x2="922.1" y2="749.2" stroke="#ff0000" stroke-width="3.1"/>
<line x1="978.8" y1="785.8" x2="978.8" y2="837.3" stroke="#ff0000" stroke-width="3.3"/>
<line x1="1020.5" y1="770.1" x2="1018.1" y2="846.7" stroke="#ff0000" stroke-width="3.3"/>
<line x1="1073" y1="774.7" x2="1070.1" y2="810.5" stroke="#ff0000" stroke-width="3.1"/>
<line x1="1140.3" y1="945.5" x2="1080.1" y2="954.7" stroke="#ff0000" stroke-width="3.2"/>
<line x1="1206.9" y1="797.4" x2="1206.9" y2="849.2" stroke="#ff0000" stroke-width="3.5"/>
<line x1="1264" y1="796.5" x2="1264" y2="848.4" stroke="#ff0000" stroke-width="3.5"/>
<text transform="translate(160.1,186.9) scale(1,1.04)" font-size="36.5" font-weight="bold" fill="#000" class="r">3546</text>
<text transform="translate(256.0,193.4) scale(1,1.04)" font-size="36.5" font-weight="bold" fill="#000" class="r">3450</text>
<text transform="translate(322.9,250.0) scale(1,1.04)" font-size="36.5" font-weight="bold" fill="#000" class="r">3079</text>
<text transform="translate(411.2,270.1) scale(1,1.04)" font-size="36.5" font-weight="bold" fill="#000" class="r">3014</text>
<text transform="translate(493.6,212.6) scale(1,1.04)" font-size="36.5" font-weight="bold" fill="#000" class="r">2965</text>
<text transform="translate(911.3,231.0) scale(1,1.04)" font-size="36.5" font-weight="bold" fill="#000" class="r">1635</text>
<text transform="translate(979.5,273.8) scale(1,1.04)" font-size="36.5" font-weight="bold" fill="#000" class="r">1432</text>
<text transform="translate(1011.7,499.4) scale(1,1.04)" font-size="36.5" font-weight="bold" fill="#000" class="r">1183</text>
<text transform="translate(1101.5,501.6) scale(1,1.04)" font-size="36.5" font-weight="bold" fill="#000" class="r">1051</text>
<text transform="translate(1136.8,546.8) scale(1,1.04)" font-size="36.5" font-weight="bold" fill="#000" class="r">1000</text>
<text transform="translate(1253.2,551.3) scale(1,1.04)" font-size="36.5" font-weight="bold" fill="#000" class="r">947</text>
<text transform="translate(1250.3,369.4) scale(1,1.04)" font-size="36.5" font-weight="bold" fill="#000" class="r">751</text>
<text transform="translate(160.6,706.1) scale(1,1.04)" font-size="36.5" font-weight="bold" fill="#ff0000" class="r">3506</text>
<text transform="translate(426.9,938.4) scale(1,1.04)" font-size="36.5" font-weight="bold" fill="#ff0000" class="r">2886</text>
<text transform="translate(776.7,719.2) scale(1,1.04)" font-size="36.5" font-weight="bold" fill="#ff0000" class="r">1965</text>
<text transform="translate(840.0,782.1) scale(1,1.04)" font-size="36.5" font-weight="bold" fill="#ff0000" class="r">1728</text>
<text transform="translate(913.4,889.3) scale(1,1.04)" font-size="36.5" font-weight="bold" fill="#ff0000" class="r">1578</text>
<text transform="translate(985.6,876.8) scale(1,1.04)" font-size="36.5" font-weight="bold" fill="#ff0000" class="r">1468</text>
<text transform="translate(1045.6,845.2) scale(1,1.04)" font-size="36.5" font-weight="bold" fill="#ff0000" class="r">1352</text>
<text transform="translate(996.3,970.8) scale(1,1.04)" font-size="36.5" font-weight="bold" fill="#ff0000" class="r">1110</text>
<text transform="translate(1189.0,884.0) scale(1,1.04)" font-size="36.5" font-weight="bold" fill="#ff0000" class="r">960</text>
<text transform="translate(1250.5,896.0) scale(1,1.04)" font-size="36.5" font-weight="bold" fill="#ff0000" class="r">879</text>
<line x1="139.7" y1="917.9" x2="239.6" y2="917.9" stroke="#000" stroke-width="7.2" stroke-linecap="round"/>
<line x1="139.7" y1="972.5" x2="239.4" y2="972.5" stroke="#ff0000" stroke-width="7.2" stroke-linecap="round"/>
<text x="249.6" y="932.9" font-size="44.2" class="r">ct-PCE</text>
<text x="249.6" y="987" font-size="44.2" class="r">c-PCE</text>
<text y="1155.8" font-size="44" class="r"><tspan x="573.5">Wavenumber</tspan> <tspan x="824.7">(cm</tspan><tspan x="893.4" y="1138.3" font-size="29.5">−</tspan><tspan x="910.3" y="1135.7" font-size="29.5">1</tspan><tspan x="926.1" y="1155.8">)</tspan></text>
<text transform="translate(35.8,669.6) rotate(-90) scale(1,1.03)" font-size="45" class="r" id="yt">Transmittance (%)</text>
</svg>
</body></html>
